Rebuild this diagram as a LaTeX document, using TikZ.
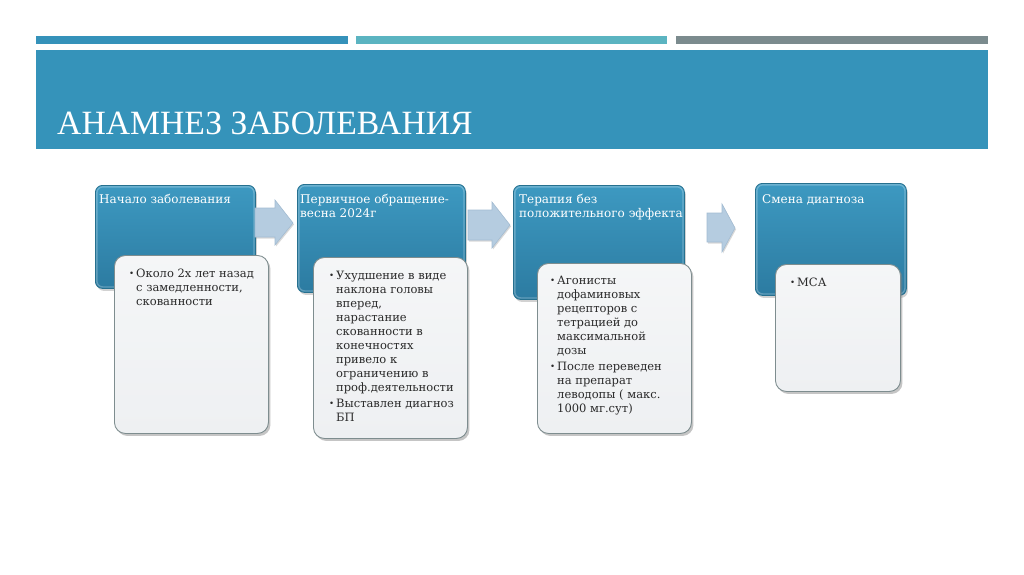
\documentclass[tikz,border=0pt]{standalone}
\usepackage{fontspec}
\setmainfont{DejaVu Serif}
\newfontfamily\titlefont{Liberation Serif}
\usetikzlibrary{shadows}
\definecolor{barA}{HTML}{3592BA}
\definecolor{barB}{HTML}{5BB4C1}
\definecolor{barC}{HTML}{7B8B8E}
\definecolor{band}{HTML}{3593BA}
\definecolor{blueTop}{HTML}{3D99C1}
\definecolor{blueBot}{HTML}{2C7BA1}
\definecolor{blueEdge}{HTML}{26708F}
\definecolor{cardFill}{HTML}{EEF0F2}
\definecolor{cardEdge}{HTML}{7E8D8F}
\definecolor{arrowFill}{HTML}{B5CCE0}
\definecolor{arrowEdge}{HTML}{A3BCD2}
\definecolor{bodyText}{HTML}{2A2A2A}
\newcommand{\bul}{\makebox[7pt][l]{\raisebox{1pt}{\scalebox{0.75}{•}}}}
\tikzset{
  bluebox/.style={anchor=north west, inner sep=0pt, rounded corners=7pt,
    draw=blueEdge, line width=0.8pt, top color=blueTop, bottom color=blueBot,
    drop shadow={shadow xshift=1.5pt, shadow yshift=-2.5pt, opacity=0.35}},
  glint/.style={draw=white, opacity=0.25, line width=1.4pt, rounded corners=6pt},
  card/.style={anchor=north west, inner sep=0pt, rounded corners=11pt,
    draw=cardEdge, line width=0.9pt, top color=cardFill!60!white, bottom color=cardFill,
    drop shadow={shadow xshift=2pt, shadow yshift=-2.5pt, opacity=0.45}},
  headtext/.style={anchor=base west, inner sep=0pt, text=white,
    font=\fontsize{12}{14}\selectfont},
  bodytext/.style={anchor=base west, inner sep=0pt, text=bodyText,
    font=\fontsize{11.5}{14}\selectfont},
  blockarrow/.style={fill=arrowFill, draw=arrowEdge, line width=0.6pt,
    drop shadow={shadow xshift=1pt, shadow yshift=-1.5pt, opacity=0.3}}
}
\begin{document}
\begin{tikzpicture}[x=1pt,y=-1pt]
\useasboundingbox[fill=white] (0,0) rectangle (1024,574);
% top bars
\fill[barA] (36,36) rectangle (348,44);
\fill[barB] (356,36) rectangle (667,44);
\fill[barC] (676,36) rectangle (988,44);
% title band
\fill[band] (36,50) rectangle (988,149);
\node[anchor=base west, inner sep=0pt, text=white, xscale=0.99,
  font=\titlefont\fontsize{34}{34}\selectfont] (title) at (57,134) {АНАМНЕЗ ЗАБОЛЕВАНИЯ};

% blue header boxes
\node[bluebox, minimum width=160pt, minimum height=103pt] (b1) at (95,185) {};
\node[bluebox, minimum width=168pt, minimum height=108pt] (b2) at (297,184) {};
\node[bluebox, minimum width=171pt, minimum height=114pt] (b3) at (513,185) {};
\node[bluebox, minimum width=151pt, minimum height=112pt] (b4) at (755,183) {};
\foreach \b in {b1,b2,b3,b4}
  \draw[glint] ([shift={(1.8,1.8)}]\b.north west) rectangle ([shift={(-1.8,-1.8)}]\b.south east);

% header texts
\node[headtext] (t1) at (99,203) {Начало заболевания};
\node[headtext] (t2) at (300,203) {\begin{tabular}[t]{@{}l@{}}Первичное обращение-\\весна 2024г\end{tabular}};
\node[headtext] (t3) at (519,203) {\begin{tabular}[t]{@{}l@{}}Терапия без\\положительного эффекта\end{tabular}};
\node[headtext] (t4) at (762,203) {Смена диагноза};

% block arrows
\fill[blockarrow] (255,208) -- (275,208) -- (275,200) -- (293,223) -- (275,245) -- (275,237) -- (255,237) -- cycle;
\fill[blockarrow] (468,210) -- (492,210) -- (492,202) -- (510,225) -- (492,248) -- (492,240) -- (468,240) -- cycle;
\fill[blockarrow] (707,213) -- (722,213) -- (722,204) -- (735,228) -- (722,252) -- (722,242) -- (707,242) -- cycle;

% white cards
\node[card, minimum width=154pt, minimum height=178pt] (w1) at (114,255) {};
\node[card, minimum width=154pt, minimum height=181pt] (w2) at (313,257) {};
\node[card, minimum width=154pt, minimum height=170pt] (w3) at (537,263) {};
\node[card, minimum width=125pt, minimum height=127pt] (w4) at (775,264) {};

% card texts
\node[bodytext] (c1) at (129,277) {\begin{tabular}[t]{@{}l@{}l@{}}
\bul & Около 2х лет назад\\
 & с замедленности,\\
 & скованности\end{tabular}};
\node[bodytext] (c2) at (329,279) {\begin{tabular}[t]{@{}l@{}l@{}}
\bul & Ухудшение в виде\\
 & наклона головы\\
 & вперед,\\
 & нарастание\\
 & скованности в\\
 & конечностях\\
 & привело к\\
 & ограничению в\\
 & проф.деятельности\\[2pt]
\bul & Выставлен диагноз\\
 & БП\end{tabular}};
\node[bodytext] (c3) at (550,284) {\begin{tabular}[t]{@{}l@{}l@{}}
\bul & Агонисты\\
 & дофаминовых\\
 & рецепторов с\\
 & тетрацией до\\
 & максимальной\\
 & дозы\\[2pt]
\bul & После переведен\\
 & на препарат\\
 & леводопы ( макс.\\
 & 1000 мг.сут)\end{tabular}};
\node[bodytext] (c4) at (790,286) {\begin{tabular}[t]{@{}l@{}l@{}}
\bul & МСА\end{tabular}};
\end{tikzpicture}
\end{document}
